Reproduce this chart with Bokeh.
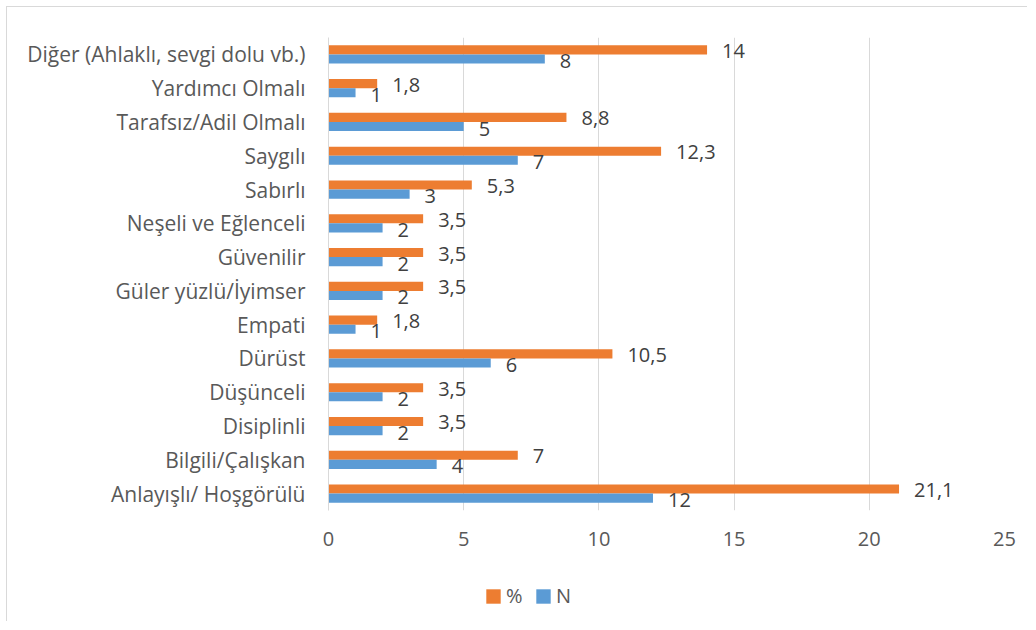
from bokeh.plotting import figure
from bokeh.layouts import column
from bokeh.models import ColumnDataSource, FactorRange, Range1d, FixedTicker, Legend, LegendItem
from bokeh.transform import dodge
from bokeh.core.properties import value
from bokeh.embed import file_html
from bokeh.resources import INLINE

categories = [
    "Anlayışlı/ Hoşgörülü",
    "Bilgili/Çalışkan",
    "Disiplinli",
    "Düşünceli",
    "Dürüst",
    "Empati",
    "Güler yüzlü/İyimser",
    "Güvenilir",
    "Neşeli ve Eğlenceli",
    "Sabırlı",
    "Saygılı",
    "Tarafsız/Adil Olmalı",
    "Yardımcı Olmalı",
    "Diğer (Ahlaklı, sevgi dolu vb.)",
]
percent = [21.1, 7, 3.5, 3.5, 10.5, 1.8, 3.5, 3.5, 3.5, 5.3, 12.3, 8.8, 1.8, 14]
counts = [12, 4, 2, 2, 6, 1, 2, 2, 2, 3, 7, 5, 1, 8]
series_names = ["%", "N"]
x_ticks = [0, 5, 10, 15, 20, 25]

def fmt(v):
    return ("%g" % v).replace(".", ",")

src = ColumnDataSource(dict(
    cat=categories,
    pct=percent,
    n=counts,
    pct_lbl=[fmt(v) for v in percent],
    n_lbl=[fmt(v) for v in counts],
))

FONT = "Open Sans"
GRAY = "#595959"
ORANGE = "#ED7D31"
BLUE = "#5B9BD5"

p = figure(
    width=1020, height=555,
    y_range=FactorRange(factors=categories, range_padding=0),
    x_range=Range1d(0, 25),
    output_backend="svg", toolbar_location=None, tools="",
    min_border_left=321, min_border_right=23, min_border_top=30, min_border_bottom=52,
)
p.outline_line_color = None
p.background_fill_color = "white"
p.border_fill_color = "white"

bh = 0.27
p.hbar(y=dodge("cat", bh / 2, range=p.y_range), right="pct", left=0, height=bh,
       source=src, fill_color=ORANGE, line_color=None)
p.hbar(y=dodge("cat", -bh / 2, range=p.y_range), right="n", left=0, height=bh,
       source=src, fill_color=BLUE, line_color=None)

p.text(x="pct", y=dodge("cat", bh / 2, range=p.y_range), text="pct_lbl", source=src,
       x_offset=15, y_offset=1, text_align="left", text_baseline="middle",
       text_font=value(FONT), text_font_size="20px", text_color="#404040")
p.text(x="n", y=dodge("cat", -bh / 2, range=p.y_range), text="n_lbl", source=src,
       x_offset=15, y_offset=2, text_align="left", text_baseline="middle",
       text_font=value(FONT), text_font_size="20px", text_color="#404040")

# grid
p.ygrid.grid_line_color = None
p.xgrid.grid_line_color = "#D9D9D9"
p.xgrid.grid_line_width = 1
p.xaxis.ticker = FixedTicker(ticks=x_ticks)

# x axis
p.xaxis.axis_line_color = None
p.xaxis.major_tick_line_color = None
p.xaxis.minor_tick_line_color = None
p.xaxis.major_tick_out = 0
p.xaxis.major_tick_in = 0
p.xaxis.major_label_text_font = FONT
p.xaxis.major_label_text_font_size = "20px"
p.xaxis.major_label_text_color = GRAY
p.xaxis.major_label_standoff = 21

# y axis
p.yaxis.axis_line_color = "#D9D9D9"
p.yaxis.major_tick_line_color = None
p.yaxis.minor_tick_line_color = None
p.yaxis.major_tick_out = 0
p.yaxis.major_tick_in = 0
p.yaxis.major_label_text_font = FONT
p.yaxis.major_label_text_font_size = "21px"
p.yaxis.major_label_text_color = GRAY
p.yaxis.major_label_standoff = 23

# legend strip below the chart
lg = figure(
    width=1020, height=59, x_range=Range1d(0, 1), y_range=Range1d(0, 1),
    output_backend="svg", toolbar_location=None, tools="",
    x_axis_location=None, y_axis_location=None,
    min_border_left=0, min_border_right=0, min_border_top=0, min_border_bottom=0,
)
lg.outline_line_color = None
lg.grid.grid_line_color = None
lg.border_fill_color = "white"
lg.background_fill_color = "white"
# swatch renderers for the legend (zero-width bar placed outside the visible range)
lg_src = ColumnDataSource(dict(y=[5], right=[0]))
r_pct = lg.hbar(y="y", right="right", left=0, height=0.1, source=lg_src,
                fill_color=ORANGE, line_color=None)
r_n = lg.hbar(y="y", right="right", left=0, height=0.1, source=lg_src,
              fill_color=BLUE, line_color=None)

legend = Legend(
    items=[LegendItem(label=series_names[0], renderers=[r_pct]),
           LegendItem(label=series_names[1], renderers=[r_n])],
    orientation="horizontal",
    location=(156, 12),
    glyph_width=18, glyph_height=18, label_height=18,
    label_standoff=4, spacing=8, padding=0, margin=0,
    label_text_font=FONT, label_text_font_size="20px", label_text_color=GRAY,
    border_line_color=None, background_fill_alpha=0,
)
lg.add_layout(legend, "center")

layout = column(p, lg, spacing=0)
layout.styles = {
    "margin-left": "6px",
    "margin-top": "6px",
    "border-left": "1px solid #D9D9D9",
    "border-top": "1px solid #D9D9D9",
}

open("out.html", "w").write(file_html(layout, INLINE))
